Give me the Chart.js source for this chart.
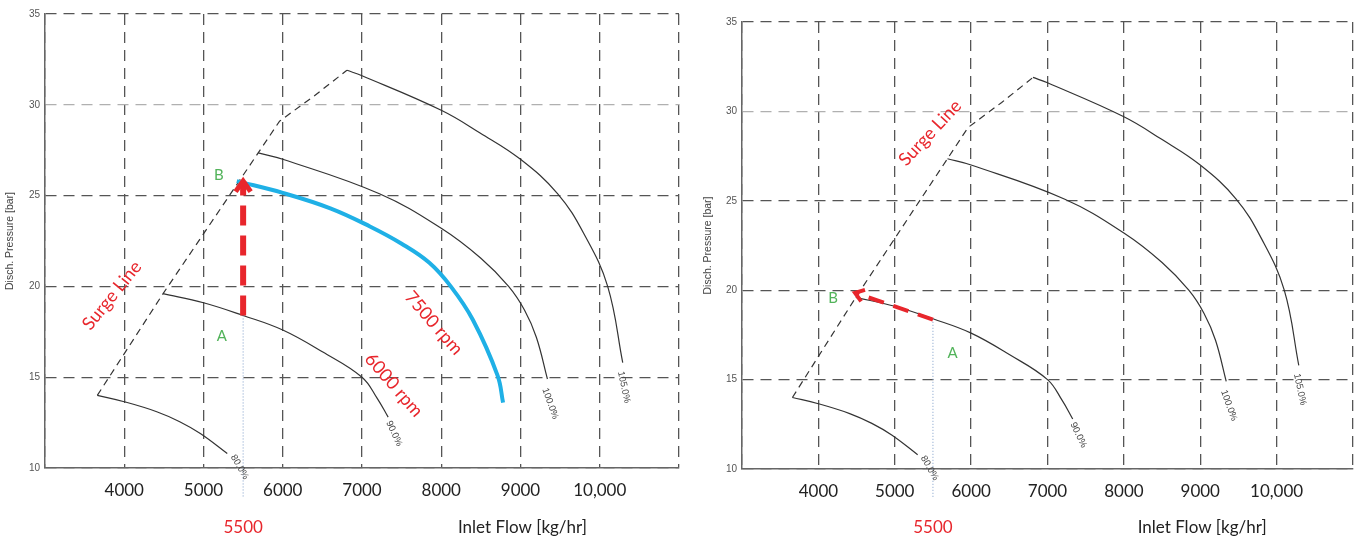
<!DOCTYPE html>
<html>
<head>
<meta charset="utf-8">
<script src="https://cdn.jsdelivr.net/npm/chart.js@4.4.1/dist/chart.umd.min.js"></script>
<style>
    html, body { margin: 0; padding: 0; background: #fff; }
    #before { position: absolute; left: 0; top: 0; width: 700px; height: 541px; }
    #after { position: absolute; left: 700px; top: 0; width: 665px; height: 541px; }
</style>
</head>
<body>
<div id="before"><canvas id="mapBefore"></canvas></div>
<div id="after"><canvas id="mapAfter"></canvas></div>
<script>
// axis ranges
const flowRange = [3000, 11000];
const pressRange = [10, 35];

// speed lines (inlet flow kg/hr, discharge pressure bar)
const flow80 = [3660, 4000, 4410, 4700, 4960, 5300];
const press80 = [14.0, 13.65, 13.1, 12.55, 11.9, 10.8];
const flow90 = [4490, 5000, 5500, 6000, 6500, 7000, 7190, 7330];
const press90 = [19.6, 19.1, 18.4, 17.6, 16.4, 15.0, 13.85, 12.8];
const flow100 = [5690, 6000, 7220, 8000, 8500, 8850, 9050, 9200, 9340];
const press100 = [27.35, 27.0, 25.1, 23.2, 21.55, 20.0, 18.7, 17.2, 14.9];
const flow105 = [6810, 7000, 8000, 8490, 9000, 9470, 9800, 10100, 10290];
const press105 = [31.9, 31.6, 29.7, 28.45, 27.0, 25.1, 22.9, 20.0, 15.8];
const surgeFlow = [3660, 4490, 5690, 5960, 6400, 6810];
const surgePress = [14.0, 19.6, 27.35, 29.1, 30.5, 31.9];
const flow7500 = [5420, 6000, 6600, 7100, 7500, 7850, 8120, 8400, 8710, 8780];
const press7500 = [25.8, 25.15, 24.3, 23.3, 22.35, 21.3, 20.0, 18.15, 15.1, 13.6];

// operating point moves
const opFlow = 5500;
const dropPress = [18.4, 8.4];
const riseFlow = [5500, 5500];
const risePress = [18.4, 25.8];
const slideFlow = [5500, 5000, 4480];
const slidePress = [18.35, 19.1, 19.85];

const speedLabels = ['80.0%', '90.0%', '100.0%', '105.0%'];

const red = '#e8262c';
const green = '#52b35a';

function pts(xs, ys) {
    return xs.map((v, i) => ({ x: v, y: ys[i] }));
}

function curve(xs, ys, color, width, dash, tension) {
    return {
        data: pts(xs, ys),
        showLine: true,
        pointRadius: 0,
        borderColor: color,
        borderWidth: width,
        borderDash: dash || [],
        tension: tension === undefined ? 0.4 : tension,
        fill: false
    };
}

function baseCurves() {
    return [
        curve(flow80, press80, '#333', 1.2),
        curve(flow90, press90, '#333', 1.2),
        curve(flow100, press100, '#333', 1.2),
        curve(flow105, press105, '#333', 1.2),
        curve(surgeFlow, surgePress, '#333', 1.2, [7, 5], 0)
    ];
}

function speedNotes() {
    return [
        { t: speedLabels[0], x: 5455, y: 10.05, a: 60 },
        { t: speedLabels[1], x: 7405, y: 11.9, a: 65 },
        { t: speedLabels[2], x: 9375, y: 13.55, a: 70 },
        { t: speedLabels[3], x: 10305, y: 14.45, a: 78 }
    ].map(n => Object.assign(n, { c: '#444', f: '9.5px "Liberation Sans"' }));
}

function axisNotes() {
    return [
        { t: String(opFlow), x: opFlow, y: 6.75, c: red, f: '17px Lato' },
        { t: 'Inlet Flow [kg/hr]', x: 9025, y: 6.75, c: '#222', f: '17px Lato' },
        { t: 'Disch. Pressure [bar]', x: 2560, y: 22.5, a: -90, c: '#444', f: '10.5px "Liberation Sans"' }
    ];
}

function notesPlugin(notes) {
    return {
        id: 'mapNotes',
        afterDatasetsDraw(chart) {
            const ctx = chart.ctx;
            const xs = chart.scales.x, ys = chart.scales.y;
            chart.data.datasets.forEach((ds, i) => {
                if (!ds.arrow) return;
                const p = chart.getDatasetMeta(i).data;
                const tip = p[p.length - 1], prev = p[p.length - 2];
                const ang = Math.atan2(tip.y - prev.y, tip.x - prev.x);
                const len = ds.arrow * 2.6, wing = 0.62;
                ctx.save();
                ctx.strokeStyle = ds.borderColor;
                ctx.lineWidth = ds.arrow;
                ctx.lineJoin = 'miter';
                ctx.beginPath();
                ctx.moveTo(tip.x - len * Math.cos(ang - wing), tip.y - len * Math.sin(ang - wing));
                ctx.lineTo(tip.x, tip.y);
                ctx.lineTo(tip.x - len * Math.cos(ang + wing), tip.y - len * Math.sin(ang + wing));
                ctx.stroke();
                ctx.restore();
            });
            notes.forEach(n => {
                ctx.save();
                ctx.translate(xs.getPixelForValue(n.x), ys.getPixelForValue(n.y));
                ctx.rotate((n.a || 0) * Math.PI / 180);
                ctx.font = n.f || '15px Lato';
                ctx.fillStyle = n.c;
                ctx.textAlign = 'center';
                ctx.textBaseline = 'middle';
                ctx.fillText(n.t, 0, 0);
                ctx.restore();
            });
        }
    };
}

function makeMap(canvasId, box, datasets, notes) {
    const ctx = document.getElementById(canvasId).getContext('2d');
    return new Chart(ctx, {
        type: 'scatter',
        data: { datasets: datasets },
        options: {
            responsive: true,
            maintainAspectRatio: false,
            animation: false,
            layout: { padding: { top: box.top, right: box.right, left: 0, bottom: 0 } },
            plugins: { legend: { display: false }, tooltip: { enabled: false } },
            scales: {
                x: {
                    type: 'linear',
                    min: flowRange[0],
                    max: flowRange[1],
                    afterFit: s => { s.height = box.xAxis; },
                    grid: {
                        color: '#555',
                        lineWidth: 1.3,
                        drawTicks: false
                    },
                    border: { color: '#666', width: 1.5, dash: [11, 7] },
                    ticks: {
                        stepSize: 1000,
                        autoSkip: false,
                        maxRotation: 0,
                        padding: 12,
                        color: '#222',
                        font: { family: 'Lato', size: 17 },
                        callback: v => (v < 4000 || v > 10000) ? '' : (v === 10000 ? '10,000' : String(v))
                    }
                },
                y: {
                    min: pressRange[0],
                    max: pressRange[1],
                    afterFit: s => { s.width = box.yAxis; },
                    grid: {
                        color: c => (c.tick && c.tick.value === 30) ? '#b0b0b0' : '#555',
                        lineWidth: 1.3,
                        drawTicks: false
                    },
                    border: { color: '#666', width: 1.5, dash: [11, 7] },
                    ticks: {
                        stepSize: 5,
                        padding: 5,
                        color: '#555',
                        font: { family: 'Liberation Sans', size: 10 }
                    }
                }
            }
        },
        plugins: [notesPlugin(notes)]
    });
}

// before: speed raised to 7500 rpm, point moves from A up to B
const beforeSets = [
    Object.assign(curve(riseFlow, risePress, red, 6, [20, 10], 0), { arrow: 5 }),
    Object.assign(curve([opFlow, opFlow], dropPress, '#7d9cc8', 1, [1, 2], 0), { clip: false }),
    curve(flow7500, press7500, '#1fb0e6', 4)
].concat(baseCurves());

const beforeNotes = [
    { t: 'B', x: 5194, y: 26.1, c: green },
    { t: 'A', x: 5232, y: 17.27, c: green },
    { t: 'Surge Line', x: 3845, y: 19.5, a: -51, c: red, f: '18px Lato' },
    { t: '7500 rpm', x: 7905, y: 17.98, a: 49, c: red, f: '18px Lato' },
    { t: '6000 rpm', x: 7401, y: 14.57, a: 49, c: red, f: '18px Lato' }
].concat(speedNotes(), axisNotes());

// after: flow reduced at constant speed, point moves from A to B on the surge line
const afterSets = [
    Object.assign(curve(slideFlow, slidePress, red, 4, [16, 10], 0), { arrow: 4 }),
    Object.assign(curve([opFlow, opFlow], dropPress, '#7d9cc8', 1, [1, 2], 0), { clip: false })
].concat(baseCurves());

const afterNotes = [
    { t: 'B', x: 4192, y: 19.55, c: green },
    { t: 'A', x: 5756, y: 16.5, c: green },
    { t: 'Surge Line', x: 5462, y: 28.8, a: -47, c: red, f: '18px Lato' }
].concat(speedNotes(), axisNotes());

makeMap('mapBefore', { top: 14, right: 21, xAxis: 73, yAxis: 45 }, beforeSets, beforeNotes);
makeMap('mapAfter', { top: 22, right: 1, xAxis: 72, yAxis: 42 }, afterSets, afterNotes);
</script>
</body>
</html>
